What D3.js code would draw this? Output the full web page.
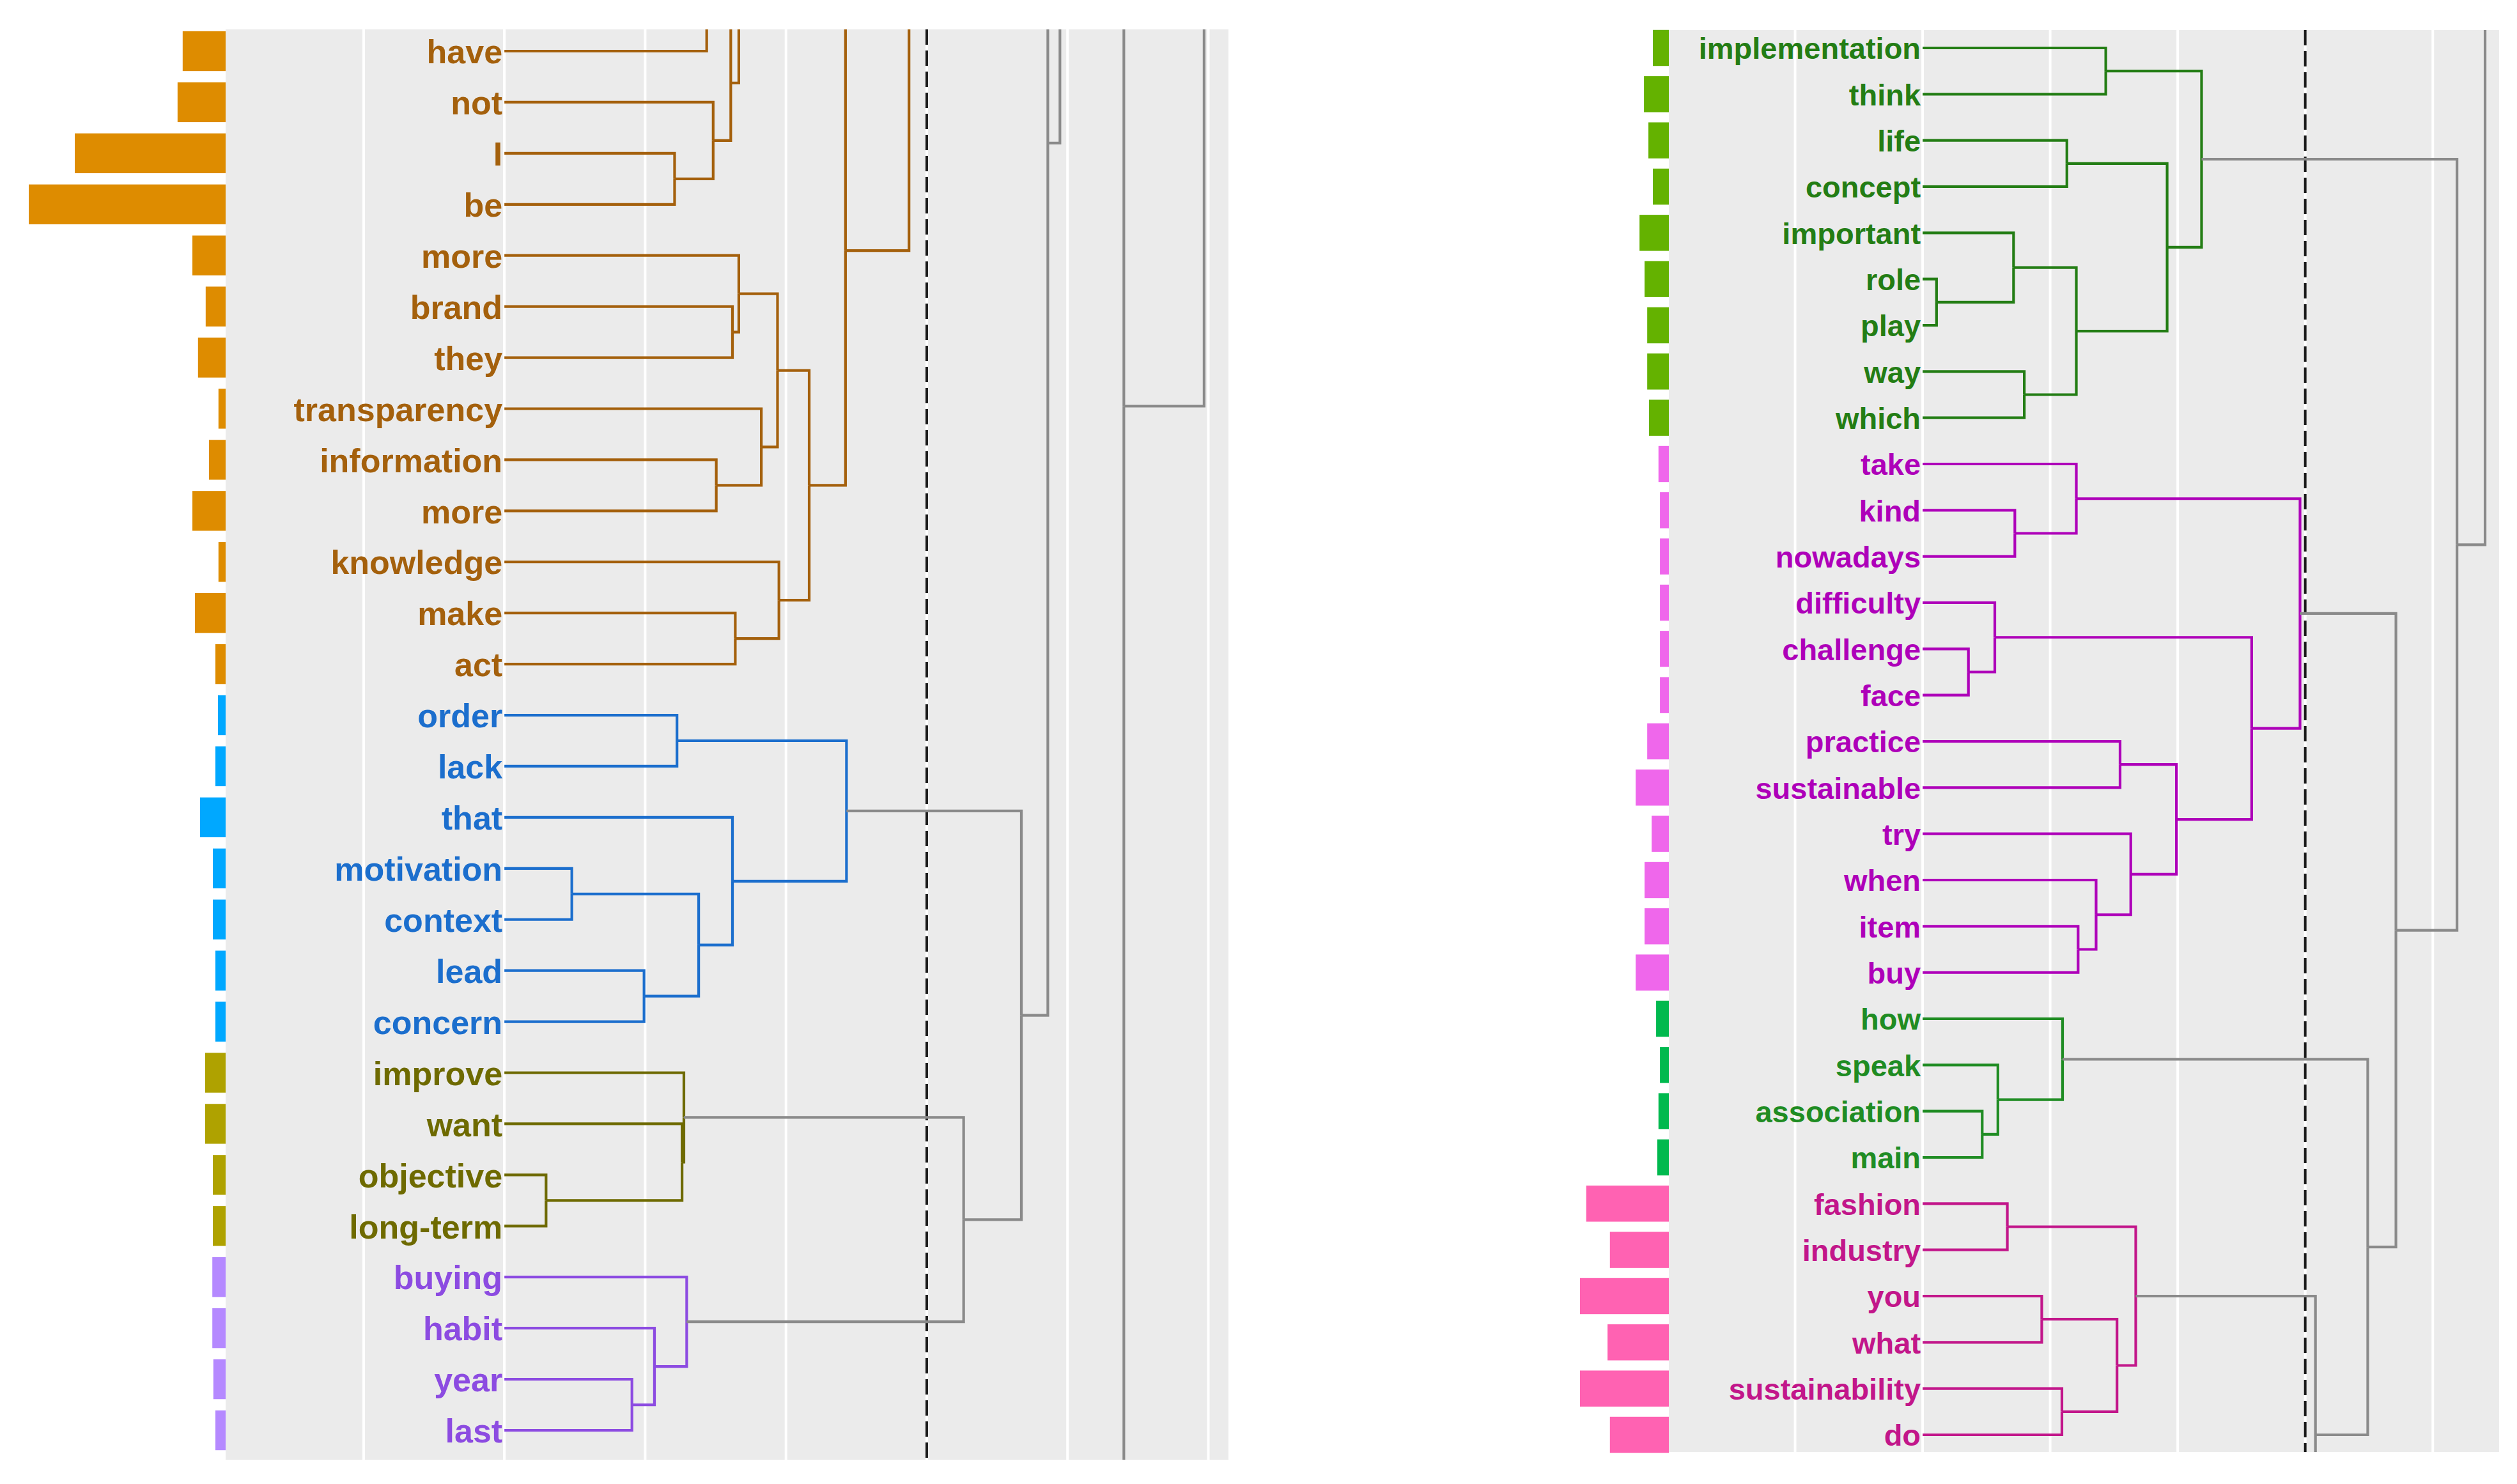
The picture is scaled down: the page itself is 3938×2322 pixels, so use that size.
<!DOCTYPE html>
<html>
<head>
<meta charset="utf-8">
<script src="https://cdn.jsdelivr.net/npm/d3@7"></script>
<style>
  body { margin: 0; background: #fff; }
  text { font-family: "Liberation Sans", Arial, sans-serif; font-weight: bold; }
</style>
</head>
<body>
<div id="chart"></div>
<script>
// ---- left dendrogram: words top to bottom, word frequency, cluster sizes
const leftWords = ["have", "not", "I", "be", "more", "brand", "they", "transparency", "information", "more",
  "knowledge", "make", "act", "order", "lack", "that", "motivation", "context", "lead", "concern",
  "improve", "want", "objective", "long-term", "buying", "habit", "year", "last"];
const leftFreq = [16.8, 18.8, 59, 77, 13, 7.8, 10.8, 2.8, 6.5, 13, 2.8, 12, 4, 3, 4, 10, 5, 5, 4, 4,
  8, 8, 5, 5, 5.2, 5.2, 4.8, 4];
const leftGroups = [13, 7, 4, 4];
const leftBarColors = ["#DE8C00", "#00A8FF", "#AFA200", "#B589FF"];
const leftLineColors = ["#A4600C", "#1B6ECD", "#6E6A00", "#8C4BE1"];
// merges: [child, child, height]. number = row (rows outside the word list lie outside the crop), "mN" = merge N
const leftMerges = [
  [2, 3, 1.209], [1, "m0", 1.483], [-1, 0, 1.437], ["m2", "m1", 1.608], [-2, "m3", 1.665],
  [5, 6, 1.62], [4, "m5", 1.665], [8, 9, 1.505], [7, "m7", 1.825], ["m6", "m8", 1.94],
  [11, 12, 1.64], [10, "m10", 1.95], ["m9", "m11", 2.165], ["m4", "m12", 2.423], [-9, "m13", 2.874],
  [-28, "m14", 3.5], [13, 14, 1.226], [16, 17, 0.479], [18, 19, 0.992], ["m17", "m18", 1.38],
  [15, "m19", 1.62], ["m16", "m20", 2.43], [22, 23, 0.296], [21, "m22", 1.262], [20, "m23", 1.275],
  [26, 27, 0.906], [25, "m25", 1.066], [24, "m26", 1.295], ["m24", "m27", 3.262], ["m21", "m28", 3.672],
  ["m15", "m29", 3.86], [-40, "m30", 3.946], [28, 38, 2.0], ["m31", "m32", 4.40], [-60, "m33", 4.97]
];

// ---- right dendrogram
const rightWords = ["implementation", "think", "life", "concept", "important", "role", "play", "way", "which",
  "take", "kind", "nowadays", "difficulty", "challenge", "face", "practice", "sustainable", "try", "when",
  "item", "buy", "how", "speak", "association", "main", "fashion", "industry", "you", "what",
  "sustainability", "do"];
const rightFreq = [5.4, 8.4, 6.9, 5.4, 9.9, 8.2, 7.3, 7.3, 6.7, 3.5, 3, 3, 3, 3, 3, 7.3, 11.2, 5.8, 8.2,
  8.2, 11.2, 4.3, 3, 3.5, 3.9, 27.9, 19.9, 30, 20.7, 30, 19.9];
const rightGroups = [9, 12, 4, 6];
const rightBarColors = ["#64B200", "#EF67EB", "#00B94E", "#FF62B2"];
const rightLineColors = ["#237D14", "#AE00B9", "#1F8C23", "#C2168A"];
const rightMerges = [
  [0, 1, 1.436], [2, 3, 1.131], [5, 6, 0.109], [4, "m2", 0.713], [7, 8, 0.797],
  ["m3", "m4", 1.205], ["m1", "m5", 1.917], ["m0", "m6", 2.187], [10, 11, 0.723], [9, "m8", 1.205],
  [13, 14, 0.359], [12, "m10", 0.566], [15, 16, 1.548], [19, 20, 1.219], [18, "m13", 1.36],
  [17, "m14", 1.632], ["m12", "m15", 1.99], ["m11", "m16", 2.58], ["m9", "m17", 2.959], [23, 24, 0.467],
  [22, "m19", 0.59], [21, "m20", 1.097], [25, 26, 0.664], [27, 28, 0.934], [29, 30, 1.092],
  ["m23", "m24", 1.524], ["m22", "m25", 1.671], ["m26", 33, 3.08], ["m21", "m27", 3.49], ["m18", "m28", 3.711],
  ["m7", "m29", 4.19], [-20, "m30", 4.41]
];

const cutHeight = 3;
const gray = "#8A8A8A";

const svg = d3.select("#chart")
  .append("svg")
  .attr("width", 3938)
  .attr("height", 2322);

function drawPanel(id, words, freq, groups, barColors, lineColors, merges, geo) {
  const x = d3.scaleLinear().domain(geo.hDomain).range([geo.x0, geo.x1]);
  const y = d3.scaleLinear().domain([0, words.length - 1]).range(geo.yRows);
  const bar = d3.scaleLinear().domain(geo.freqDomain).range([0, geo.barMax]);
  const step = y(1) - y(0);

  // group index of every visible row
  const groupOf = [];
  groups.forEach((n, g) => { for (let i = 0; i < n; i++) groupOf.push(g); });

  // build nodes from the merge list
  const nodes = [];
  const ref = r => typeof r === "number"
    ? { h: 0, y: y(r), rows: (r >= 0 && r < words.length) ? [r] : [] }
    : nodes[+r.slice(1)];
  merges.forEach(([a, b, h]) => {
    const ca = ref(a), cb = ref(b);
    nodes.push({ h: h, y: (ca.y + cb.y) / 2, kids: [ca, cb], rows: ca.rows.concat(cb.rows) });
  });
  const colorOf = n => (n.h < cutHeight && n.rows.length) ? lineColors[groupOf[n.rows[0]]] : gray;

  const g = svg.append("g");

  g.append("clipPath").attr("id", id + "-clip")
    .append("rect")
    .attr("x", geo.x0).attr("y", geo.y0)
    .attr("width", geo.x1 - geo.x0).attr("height", geo.y1 - geo.y0);

  // panel background + grid
  g.append("rect")
    .attr("x", geo.x0).attr("y", geo.y0)
    .attr("width", geo.x1 - geo.x0).attr("height", geo.y1 - geo.y0)
    .attr("fill", "#EBEBEB");

  g.selectAll(".grid")
    .data(d3.range(Math.ceil(geo.hDomain[0]), Math.floor(geo.hDomain[1]) + 1))
    .join("line")
    .attr("class", "grid")
    .attr("x1", d => x(d)).attr("x2", d => x(d))
    .attr("y1", geo.y0).attr("y2", geo.y1)
    .attr("stroke", "#fff")
    .attr("stroke-width", 4);

  // frequency bars to the left of the panel
  g.selectAll(".bar")
    .data(words)
    .join("rect")
    .attr("class", "bar")
    .attr("x", (d, i) => geo.x0 - bar(freq[i]))
    .attr("y", (d, i) => y(i) - step * 0.39)
    .attr("width", (d, i) => bar(freq[i]))
    .attr("height", step * 0.78)
    .attr("fill", (d, i) => barColors[groupOf[i]]);

  // dendrogram branches
  const segs = [];
  nodes.forEach(n => n.kids.forEach(c => segs.push({ c: c, p: n })));

  const lines = g.append("g").attr("clip-path", `url(#${id}-clip)`);

  lines.append("line")
    .attr("x1", x(cutHeight)).attr("x2", x(cutHeight))
    .attr("y1", geo.y0).attr("y2", geo.y1)
    .attr("stroke", "#1a1a1a")
    .attr("stroke-width", 4)
    .attr("stroke-dasharray", "24,9");

  lines.selectAll(".branch")
    .data(segs)
    .join("path")
    .attr("class", "branch")
    .attr("d", d => `M${x(d.c.h)},${d.c.y}H${x(d.p.h)}V${d.p.y}`)
    .attr("fill", "none")
    .attr("stroke", d => colorOf(d.p))
    .attr("stroke-width", 4.2);

  // word labels
  g.selectAll(".label")
    .data(words)
    .join("text")
    .attr("class", "label")
    .attr("x", x(0) - 3)
    .attr("y", (d, i) => y(i))
    .attr("dy", "0.37em")
    .attr("text-anchor", "end")
    .attr("font-size", geo.fontSize)
    .attr("fill", (d, i) => lineColors[groupOf[i]])
    .text(d => d);
}

drawPanel("left", leftWords, leftFreq, leftGroups, leftBarColors, leftLineColors, leftMerges,
  { x0: 353, x1: 1922, y0: 46, y1: 2284, hDomain: [-1.98, 5.143], yRows: [80, 2238],
    freqDomain: [0, 77], barMax: 308, fontSize: 52 });

drawPanel("right", rightWords, rightFreq, rightGroups, rightBarColors, rightLineColors, rightMerges,
  { x0: 2611, x1: 3910, y0: 47, y1: 2272, hDomain: [-1.99, 4.52], yRows: [75, 2245],
    freqDomain: [0, 30], barMax: 139, fontSize: 47 });
</script>
</body>
</html>
